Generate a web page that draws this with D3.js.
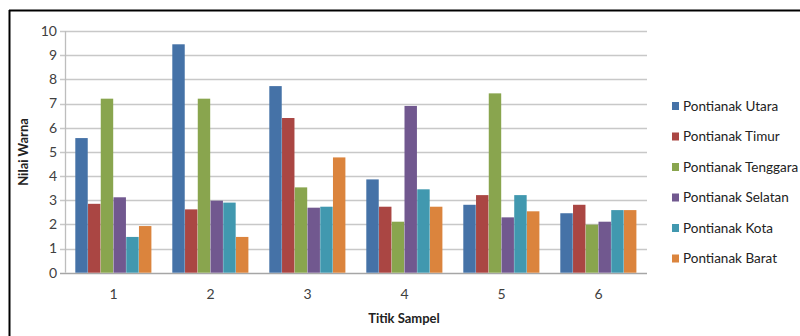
<!DOCTYPE html>
<html><head><meta charset="utf-8">
<script src="https://cdn.jsdelivr.net/npm/d3@7"></script>
<style>body{margin:0;background:#fff}svg{display:block;font-family:Lato,"Open Sans",sans-serif}</style>
</head><body><svg id="c" width="800" height="336"></svg>
<script>
const categories = ["1","2","3","4","5","6"];
const seriesNames = ["Pontianak Utara","Pontianak Timur","Pontianak Tenggara","Pontianak Selatan","Pontianak Kota","Pontianak Barat"];
const utara    = [5.57, 9.45, 7.72, 3.86, 2.81, 2.46];
const timur    = [2.85, 2.62, 6.40, 2.73, 3.21, 2.81];
const tenggara = [7.20, 7.20, 3.53, 2.11, 7.42, 1.99];
const selatan  = [3.12, 2.98, 2.69, 6.90, 2.29, 2.11];
const kota     = [1.48, 2.90, 2.73, 3.45, 3.21, 2.59];
const barat    = [1.93, 1.48, 4.77, 2.73, 2.54, 2.59];
const yTicks = [0,1,2,3,4,5,6,7,8,9,10];
const colors = ["#4572A7","#AA4643","#89A54E","#71588F","#4198AF","#DB843D"];
const seriesValues = [utara, timur, tenggara, selatan, kota, barat];

const svg = d3.select("#c");
// frame (top and left border)
svg.append("line").attr("x1",9).attr("x2",800).attr("y1",10.5).attr("y2",10.5).attr("stroke","#000").attr("stroke-width",2);
svg.append("line").attr("x1",9.5).attr("x2",9.5).attr("y1",10).attr("y2",336).attr("stroke","#000").attr("stroke-width",2);

const L=65, R=647, T=31, B=272.7;
const x0 = d3.scaleBand().domain(categories).range([L,R]).paddingInner(0).paddingOuter(0);
const x1 = d3.scaleBand().domain(seriesNames).range([10.3, 86.7]);
const y = d3.scaleLinear().domain([0,10]).range([B,T]);

// gridlines
svg.append("g").selectAll("line").data(yTicks).join("line")
  .attr("x1",L-5).attr("x2",R).attr("y1",d=>Math.round(y(d))+0.5).attr("y2",d=>Math.round(y(d))+0.5)
  .attr("stroke",d=>d===0?"#a6a6a6":"#c8c8c8").attr("stroke-width",1.3);
// y axis line
svg.append("line").attr("x1",L+0.5).attr("x2",L+0.5).attr("y1",T).attr("y2",B).attr("stroke","#bdbdbd").attr("stroke-width",1.3);

// y tick labels
svg.append("g").selectAll("text").data(yTicks).join("text")
  .attr("x",L-8).attr("y",d=>y(d)).attr("dy","0.35em").attr("text-anchor","end")
  .attr("font-size",14).attr("fill","#404040").text(d=>d);

// bars
const groups = svg.append("g").selectAll("g").data(categories).join("g")
  .attr("transform",d=>`translate(${x0(d)},0)`);
groups.selectAll("rect").data((c,i)=>seriesNames.map((s,j)=>({s,v:seriesValues[j][i],j})))
  .join("rect")
  .attr("x",d=>x1(d.s)).attr("width",x1.bandwidth()-0.3)
  .attr("y",d=>y(d.v)).attr("height",d=>B-y(d.v))
  .attr("fill",d=>colors[d.j]);

// x labels
svg.append("g").selectAll("text").data(categories).join("text")
  .attr("x",d=>x0(d)+x0.bandwidth()/2).attr("y",299).attr("text-anchor","middle")
  .attr("font-size",14).attr("fill","#404040").text(d=>d);

// axis titles
svg.append("text").attr("x",404).attr("y",323).attr("text-anchor","middle")
  .attr("font-size",13).attr("font-weight","bold").attr("fill","#222").text("Titik Sampel");
svg.append("text").attr("transform","translate(28,152) rotate(-90)").attr("text-anchor","middle")
  .attr("font-size",13).attr("font-weight","bold").attr("fill","#222").text("Nilai Warna");

// legend
const lg = svg.append("g").selectAll("g").data(seriesNames).join("g")
  .attr("transform",(d,i)=>`translate(672,${106+i*30.5})`);
lg.append("rect").attr("x",0).attr("y",-4).attr("width",7).attr("height",8).attr("fill",(d,i)=>colors[i]);
lg.append("text").attr("x",11).attr("y",0).attr("dy","0.35em").attr("font-size",13.5).attr("fill","#222").text(d=>d);
</script></body></html>
